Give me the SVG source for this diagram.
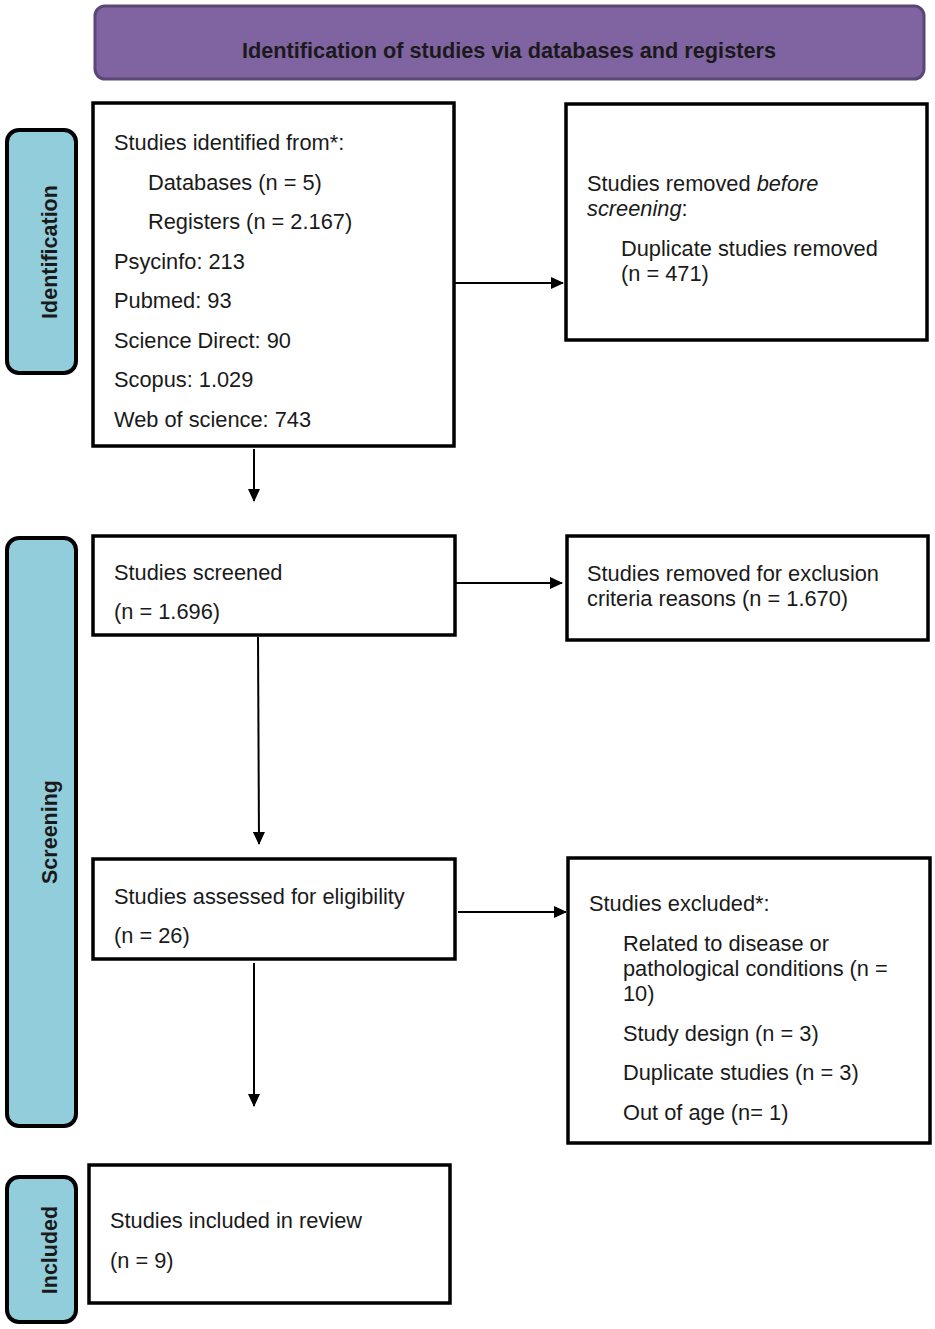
<svg xmlns="http://www.w3.org/2000/svg" width="935" height="1329" viewBox="0 0 935 1329">
<defs>
<marker id="ah" markerWidth="13" markerHeight="12" refX="12" refY="6" orient="auto" markerUnits="userSpaceOnUse">
<path d="M0,0 L13,6 L0,12 z" fill="#000"/>
</marker>
<style>
.box{fill:#fff;stroke:#000;stroke-width:3.5}
.side{fill:#92cddc;stroke:#000;stroke-width:4}
.t{font-family:"Liberation Sans",Arial,sans-serif;font-size:21.8px;fill:#1a1a1a}
.st{font-family:"Liberation Sans",Arial,sans-serif;font-size:21.5px;font-weight:bold;fill:#1a1a1a}
.ht{font-family:"Liberation Sans",Arial,sans-serif;font-size:22px;font-weight:bold;fill:#1a1a1a}
.c{stroke:#000;stroke-width:2;fill:none;marker-end:url(#ah)}
</style>
</defs>
<g id="header">
<rect x="95" y="6" width="829" height="73" rx="10" fill="#8064a2" stroke="#5b4776" stroke-width="3"/>
<text x="509" y="58" text-anchor="middle" class="ht" textLength="534" lengthAdjust="spacingAndGlyphs">Identification of studies via databases and registers</text>
</g>
<g id="side-identification">
<rect x="7" y="130" width="69" height="243" rx="12" class="side"/>
<text transform="translate(57,252) rotate(-90)" text-anchor="middle" class="st">Identification</text>
</g>
<g id="side-screening">
<rect x="7" y="538" width="69" height="588" rx="12" class="side"/>
<text transform="translate(57,832) rotate(-90)" text-anchor="middle" class="st">Screening</text>
</g>
<g id="side-included">
<rect x="7" y="1177" width="69" height="145" rx="12" class="side"/>
<text transform="translate(57,1250) rotate(-90)" text-anchor="middle" class="st">Included</text>
</g>
<g id="identified">
<rect x="93" y="103" width="361" height="343" class="box"/>
<text class="t" x="114" y="150">Studies identified from*:</text>
<text class="t" x="148" y="190">Databases (n = 5)</text>
<text class="t" x="148" y="229">Registers (n = 2.167)</text>
<text class="t" x="114" y="269">Psycinfo: 213</text>
<text class="t" x="114" y="308">Pubmed: 93</text>
<text class="t" x="114" y="348">Science Direct: 90</text>
<text class="t" x="114" y="387">Scopus: 1.029</text>
<text class="t" x="114" y="427">Web of science: 743</text>
</g>
<g id="removed-before">
<rect x="566" y="104" width="361" height="236" class="box"/>
<text class="t" x="587" y="191">Studies removed <tspan font-style="italic">before</tspan></text>
<text class="t" x="587" y="216" font-style="italic">screening<tspan font-style="normal">:</tspan></text>
<text class="t" x="621" y="256">Duplicate studies removed</text>
<text class="t" x="621" y="281">(n = 471)</text>
</g>
<g id="screened">
<rect x="93" y="536" width="362" height="99" class="box"/>
<text class="t" x="114" y="580">Studies screened</text>
<text class="t" x="114" y="619">(n = 1.696)</text>
</g>
<g id="removed-exclusion">
<rect x="567" y="536" width="361" height="104" class="box"/>
<text class="t" x="587" y="581">Studies removed for exclusion</text>
<text class="t" x="587" y="606">criteria reasons (n = 1.670)</text>
</g>
<g id="eligibility">
<rect x="93" y="859" width="362" height="100" class="box"/>
<text class="t" x="114" y="904">Studies assessed for eligibility</text>
<text class="t" x="114" y="943">(n = 26)</text>
</g>
<g id="excluded">
<rect x="568" y="858" width="362" height="285" class="box"/>
<text class="t" x="589" y="911">Studies excluded*:</text>
<text class="t" x="623" y="951">Related to disease or</text>
<text class="t" x="623" y="976">pathological conditions (n =</text>
<text class="t" x="623" y="1001">10)</text>
<text class="t" x="623" y="1041">Study design (n = 3)</text>
<text class="t" x="623" y="1080">Duplicate studies (n = 3)</text>
<text class="t" x="623" y="1120">Out of age (n= 1)</text>
</g>
<g id="included">
<rect x="89" y="1165" width="361" height="138" class="box"/>
<text class="t" x="110" y="1228">Studies included in review</text>
<text class="t" x="110" y="1268">(n = 9)</text>
</g>
<g id="connectors">
<line x1="455" y1="283" x2="563" y2="283" class="c"/>
<line x1="254" y1="449" x2="254" y2="501" class="c"/>
<line x1="456" y1="583" x2="562" y2="583" class="c"/>
<line x1="258" y1="637" x2="259" y2="844" class="c"/>
<line x1="458" y1="912" x2="566" y2="912" class="c"/>
<line x1="254" y1="963" x2="254" y2="1106" class="c"/>
</g>
</svg>
